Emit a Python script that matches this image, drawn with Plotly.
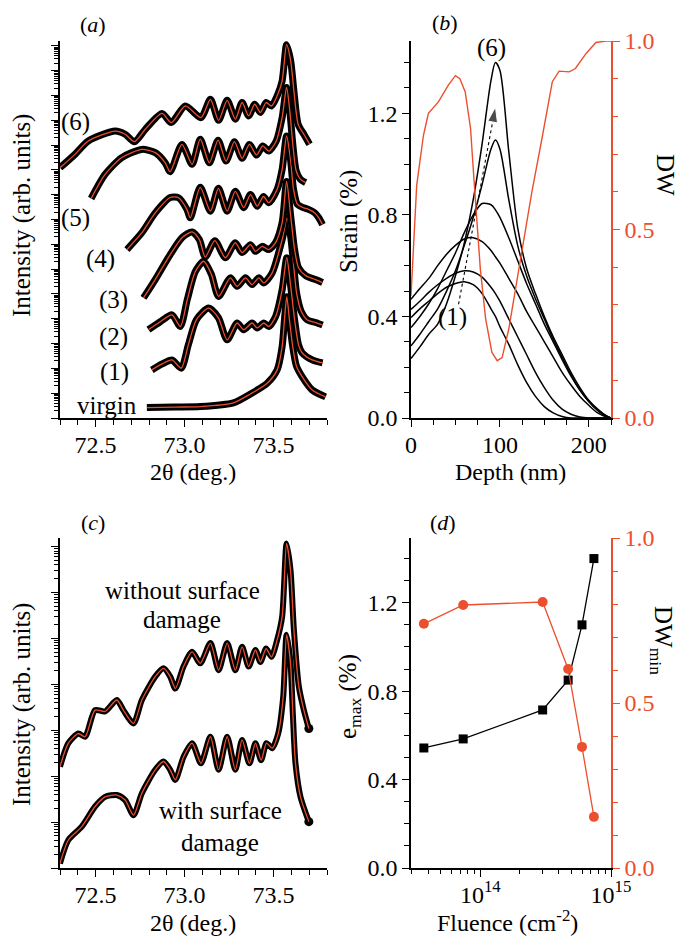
import plotly.graph_objects as go

W, H = 681, 937
RED = "#EB4F2E"
FONT = "Liberation Serif"

# ---------------- (a) XRD scans: 2theta (deg) and log10 intensity ----------------
tth_virgin = [72.788, 72.948, 73.088, 73.274, 73.370, 73.464, 73.520, 73.548, 73.561, 73.574,
              73.589, 73.606, 73.628, 73.661, 73.717, 73.792]
logi_virgin = [0.42, 0.44, 0.46, 0.61, 0.97, 1.40, 1.94, 2.88, 3.96, 4.89,
               3.96, 2.95, 2.10, 1.66, 1.13, 0.85]

tth_1 = [72.816, 72.874, 72.929, 72.981, 73.021, 73.066, 73.135, 73.190, 73.239, 73.295, 73.332,
         73.379, 73.408, 73.445, 73.473, 73.511, 73.548, 73.574, 73.595, 73.618, 73.640, 73.661,
         73.717, 73.775]
logi_1 = [1.94, 2.18, 2.34, 2.01, 2.95, 3.96, 4.43, 4.04, 3.15, 3.83, 3.56,
          3.83, 3.63, 3.83, 3.69, 4.09, 5.17, 6.46, 5.38, 3.96, 2.95, 2.62,
          2.34, 2.22]

tth_2 = [72.797, 72.863, 72.929, 72.976, 73.015, 73.060, 73.107, 73.150, 73.191, 73.257, 73.295,
         73.342, 73.379, 73.417, 73.445, 73.492, 73.548, 73.576, 73.598, 73.612, 73.630, 73.655,
         73.690, 73.736, 73.775]
logi_2 = [3.56, 3.88, 4.16, 3.69, 4.77, 5.90, 6.32, 5.80, 4.90, 5.65, 5.31,
          5.65, 5.38, 5.65, 5.44, 5.85, 7.19, 8.07, 7.20, 6.20, 5.00, 4.30,
          3.95, 3.85, 3.75]

tth_3 = [72.769, 72.835, 72.919, 72.987, 73.042, 73.083, 73.116, 73.170, 73.229, 73.285, 73.323,
         73.370, 73.398, 73.436, 73.473, 73.511, 73.548, 73.573, 73.595, 73.618, 73.640, 73.680,
         73.736, 73.775]
logi_3 = [4.84, 5.58, 6.59, 7.28, 7.50, 7.19, 6.49, 7.15, 6.46, 7.07, 6.67,
          6.99, 6.72, 6.92, 6.79, 7.07, 7.88, 9.54, 8.21, 6.79, 6.06, 5.74,
          5.58, 5.46]

tth_4 = [72.676, 72.760, 72.835, 72.919, 72.966, 73.013, 73.032, 73.088, 73.145, 73.190, 73.239,
         73.285, 73.332, 73.370, 73.408, 73.443, 73.473, 73.520, 73.548, 73.573, 73.595, 73.612,
         73.634, 73.663, 73.696, 73.730, 73.753, 73.775]
logi_4 = [6.79, 7.47, 8.27, 8.89, 8.88, 8.41, 8.07, 9.30, 8.34, 9.26, 8.34,
          9.14, 8.48, 9.01, 8.54, 8.93, 8.68, 9.22, 10.02, 11.37, 10.43, 9.22,
          8.61, 8.49, 8.41, 8.28, 8.08, 7.80]

tth_5 = [72.475, 72.553, 72.647, 72.760, 72.835, 72.891, 72.919, 72.985, 73.042, 73.088, 73.139,
         73.188, 73.233, 73.280, 73.323, 73.364, 73.404, 73.439, 73.473, 73.515, 73.548, 73.573,
         73.591, 73.608, 73.627, 73.651, 73.680]
logi_5 = [8.85, 9.82, 10.50, 10.83, 10.70, 10.29, 9.93, 11.03, 10.23, 11.24, 10.29,
          11.20, 10.36, 11.14, 10.47, 11.03, 10.60, 10.97, 10.76, 11.17, 12.11, 13.33,
          12.38, 11.03, 9.96, 9.62, 9.49]

tth_6 = [72.300, 72.384, 72.459, 72.610, 72.666, 72.718, 72.779, 72.873, 72.925, 73.004, 73.092,
         73.145, 73.191, 73.239, 73.285, 73.323, 73.360, 73.394, 73.426, 73.458, 73.488, 73.520,
         73.548, 73.573, 73.596, 73.614, 73.638, 73.670, 73.702]
logi_6 = [10.09, 10.63, 11.17, 11.57, 11.44, 11.14, 11.64, 12.28, 11.91, 12.58, 12.11,
          12.85, 12.00, 12.81, 12.05, 12.72, 12.18, 12.65, 12.32, 12.72, 12.58, 12.99,
          13.59, 15.05, 14.40, 13.19, 11.84, 11.44, 11.04]

scan_labels = ["virgin", "(1)", "(2)", "(3)", "(4)", "(5)", "(6)"]

# ---------------- (b) strain and DW depth profiles ----------------
depth_nm = [0, 10, 20, 30, 40, 50, 60, 70, 80, 90, 95, 100, 110, 120, 130, 140, 150, 160, 170,
            180, 190, 200, 210, 220, 225]
strain_1 = [0.396, 0.43, 0.46, 0.49, 0.515, 0.53, 0.537, 0.525, 0.49, 0.43, 0.40, 0.36, 0.29,
            0.21, 0.14, 0.085, 0.045, 0.02, 0.006, 0.0, 0.0, 0.0, 0.0, 0.0, 0.0]
strain_2 = [0.428, 0.46, 0.495, 0.525, 0.55, 0.57, 0.58, 0.575, 0.555, 0.515, 0.49, 0.46, 0.39,
            0.32, 0.25, 0.18, 0.12, 0.07, 0.035, 0.015, 0.004, 0.0, 0.0, 0.0, 0.0]
strain_3 = [0.468, 0.51, 0.55, 0.60, 0.645, 0.68, 0.705, 0.71, 0.695, 0.66, 0.635, 0.61, 0.55,
            0.49, 0.42, 0.36, 0.30, 0.24, 0.18, 0.13, 0.085, 0.05, 0.02, 0.004, 0.0]
strain_4 = [0.356, 0.40, 0.45, 0.51, 0.58, 0.65, 0.73, 0.80, 0.845, 0.84, 0.82, 0.79, 0.71,
            0.62, 0.53, 0.45, 0.37, 0.30, 0.23, 0.165, 0.11, 0.065, 0.03, 0.007, 0.0]
strain_5 = [0.284, 0.33, 0.38, 0.43, 0.50, 0.58, 0.68, 0.79, 0.92, 1.06, 1.095, 1.06, 0.86,
            0.68, 0.56, 0.47, 0.39, 0.31, 0.24, 0.17, 0.11, 0.065, 0.03, 0.007, 0.0]
strain_6 = [0.234, 0.28, 0.33, 0.37, 0.45, 0.56, 0.69, 0.86, 1.08, 1.33, 1.40, 1.37, 1.05,
            0.75, 0.59, 0.49, 0.40, 0.32, 0.25, 0.18, 0.12, 0.07, 0.035, 0.008, 0.0]

dw_depth_nm = [0, 6.4, 14, 19.6, 31, 42, 50, 55, 61, 67, 70.5, 74, 78, 84, 91, 97, 102.5, 110,
               117.6, 125, 136, 148, 159, 166.6, 178, 185, 197, 208, 219, 225]
dw_profile = [0.324, 0.617, 0.75, 0.808, 0.839, 0.883, 0.908, 0.90, 0.865, 0.768, 0.644, 0.52,
              0.395, 0.262, 0.174, 0.152, 0.160, 0.236, 0.342, 0.449, 0.60, 0.75, 0.892, 0.92,
              0.918, 0.927, 0.967, 0.996, 1.0, 1.0]

trend_depth = [53.5, 95.0]
trend_strain = [0.448, 1.225]

# ---------------- (c) fits with and without surface damage ----------------
tth_without = [72.300, 72.347, 72.403, 72.441, 72.497, 72.553, 72.619, 72.656, 72.713, 72.760,
               72.835, 72.882, 72.919, 72.948, 72.994, 73.042, 73.088, 73.145, 73.191, 73.239,
               73.285, 73.323, 73.360, 73.398, 73.426, 73.458, 73.488, 73.520, 73.548, 73.573,
               73.595, 73.614, 73.642, 73.670, 73.698]
logi_without = [2.21, 2.72, 2.93, 2.86, 3.44, 3.41, 3.66, 3.44, 3.15, 3.66,
                4.17, 4.35, 4.17, 3.91, 4.39, 4.71, 4.46, 4.90, 4.31, 4.90,
                4.31, 4.82, 4.39, 4.75, 4.49, 4.78, 4.60, 4.97, 5.47, 7.07,
                6.49, 5.19, 3.95, 3.44, 3.04]

tth_with = [72.300, 72.347, 72.422, 72.497, 72.553, 72.619, 72.666, 72.713, 72.760, 72.835,
            72.882, 72.919, 72.948, 72.994, 73.042, 73.092, 73.145, 73.191, 73.239, 73.285,
            73.323, 73.364, 73.398, 73.430, 73.460, 73.492, 73.526, 73.554, 73.573, 73.595,
            73.608, 73.623, 73.651, 73.698]
logi_with = [0.10, 0.61, 0.90, 1.34, 1.55, 1.59, 1.48, 1.15, 1.63, 2.14,
             2.32, 2.14, 1.92, 2.42, 2.72, 2.28, 2.86, 2.14, 2.86, 2.14,
             2.79, 2.28, 2.72, 2.35, 2.72, 2.61, 2.93, 3.73, 5.08, 4.46,
             3.37, 2.28, 1.55, 1.01]

# ---------------- (d) maximum strain and minimum DW vs fluence ----------------
fluence = [3.7e13, 7.4e13, 3.0e14, 4.7e14, 6.0e14, 7.4e14]
e_max = [0.543, 0.584, 0.715, 0.85, 1.10, 1.40]
dw_min = [0.74, 0.797, 0.806, 0.603, 0.367, 0.155]


def px(x):
    return x / W


def py(y):
    return 1 - y / H


fig = go.Figure()


def scan(xa, ya, tth, logi, black_w=7, end_dot=False):
    inten = [10 ** v for v in logi]
    fig.add_trace(go.Scatter(x=tth, y=inten, xaxis=xa, yaxis=ya, mode="lines",
                             line=dict(color="black", width=black_w, shape="spline", smoothing=0.7),
                             hoverinfo="skip", showlegend=False))
    if end_dot:
        fig.add_trace(go.Scatter(x=tth[-1:], y=inten[-1:], xaxis=xa, yaxis=ya, mode="markers",
                                 marker=dict(color="black", size=9), hoverinfo="skip",
                                 showlegend=False))
    fig.add_trace(go.Scatter(x=tth, y=inten, xaxis=xa, yaxis=ya, mode="lines",
                             line=dict(color=RED, width=1.3, shape="spline", smoothing=0.7),
                             hoverinfo="skip", showlegend=False))


# (a)
for tth, logi in [(tth_virgin, logi_virgin), (tth_1, logi_1), (tth_2, logi_2), (tth_3, logi_3),
                  (tth_4, logi_4), (tth_5, logi_5), (tth_6, logi_6)]:
    scan("x", "y", tth, logi)

# (b)
for s in [strain_1, strain_2, strain_3, strain_4, strain_5, strain_6]:
    fig.add_trace(go.Scatter(x=depth_nm, y=s, xaxis="x2", yaxis="y2", mode="lines",
                             line=dict(color="black", width=1.5, shape="spline", smoothing=0.8),
                             showlegend=False))
fig.add_trace(go.Scatter(x=dw_depth_nm, y=dw_profile, xaxis="x2", yaxis="y3", mode="lines",
                         line=dict(color=RED, width=1.4), showlegend=False))
fig.add_trace(go.Scatter(x=trend_depth, y=trend_strain, xaxis="x2", yaxis="y2",
                         mode="lines+markers",
                         line=dict(color="black", width=1.1, dash="dot"),
                         marker=dict(symbol="arrow", size=[0, 16], color="black",
                                     angleref="previous"),
                         showlegend=False))

# (c)
scan("x3", "y4", tth_without, logi_without, black_w=6, end_dot=True)
scan("x3", "y4", tth_with, logi_with, black_w=6, end_dot=True)

# (d)
fig.add_trace(go.Scatter(x=fluence, y=e_max, xaxis="x4", yaxis="y5", mode="lines+markers",
                         line=dict(color="black", width=1.3),
                         marker=dict(symbol="square", size=9, color="black"), showlegend=False))
fig.add_trace(go.Scatter(x=fluence, y=dw_min, xaxis="x4", yaxis="y6", mode="lines+markers",
                         line=dict(color=RED, width=1.3),
                         marker=dict(symbol="circle", size=10, color=RED), showlegend=False))

TICK_SIZE = 24
tickfont = dict(family=FONT, size=TICK_SIZE, color="black")
redfont = dict(family=FONT, size=TICK_SIZE, color=RED)


def base_axis(**kw):
    d = dict(showline=True, linecolor="black", linewidth=1.5, ticks="outside", ticklen=7,
             tickwidth=1.3, tickcolor="black", showgrid=False, zeroline=False,
             automargin=False, tickfont=tickfont)
    d.update(kw)
    return d


xa_dom = [px(60), px(327)]
xb_dom = [px(411), px(611)]
ytop_dom = [py(418), py(41)]
ybot_dom = [py(868), py(538)]

tth_ticks = dict(range=[72.3, 73.8], tickvals=[72.5, 73.0, 73.5], ticktext=["72.5", "73.0", "73.5"],
                 ticklabelstandoff=-3,
                 minor=dict(ticks="outside", ticklen=5, tickwidth=1.2, tickcolor="black",
                            dtick=0.1, tick0=72.3))
log_minor = dict(ticks="outside", ticklen=4, tickwidth=1, tickcolor="black", dtick="D1")

fig.update_layout(
    width=W, height=H, margin=dict(l=0, r=0, t=0, b=0, autoexpand=False),
    paper_bgcolor="white", plot_bgcolor="rgba(0,0,0,0)",
    xaxis=base_axis(domain=xa_dom, anchor="y", **tth_ticks),
    yaxis=base_axis(domain=ytop_dom, anchor="x", type="log", range=[0, 15.2], dtick=1,
                    showticklabels=False, ticklen=7, minor=log_minor),
    xaxis2=base_axis(domain=xb_dom, anchor="y2", range=[0, 225], tickvals=[0, 100, 200],
                     ticklabelstandoff=-3,
                     minor=dict(ticks="outside", ticklen=5, tickwidth=1.2, tickcolor="black",
                                dtick=25, tick0=0)),
    yaxis2=base_axis(domain=ytop_dom, anchor="x2", range=[0, 1.485],
                     tickvals=[0, 0.4, 0.8, 1.2], ticktext=["0.0", "0.4", "0.8", "1.2"],
                     minor=dict(ticks="outside", ticklen=5, tickwidth=1.2, tickcolor="black",
                                dtick=0.1, tick0=0)),
    yaxis3=base_axis(overlaying="y2", anchor="x2", side="right", range=[0, 1],
                     tickvals=[0, 0.5, 1.0], ticktext=["0.0", "0.5", "1.0"],
                     linecolor=RED, tickcolor=RED, tickfont=redfont,
                     minor=dict(ticks="outside", ticklen=5, tickwidth=1.2, tickcolor=RED,
                                dtick=0.1, tick0=0)),
    xaxis3=base_axis(domain=xa_dom, anchor="y4", **tth_ticks),
    yaxis4=base_axis(domain=ybot_dom, anchor="x3", type="log", range=[0, 7.19], dtick=1,
                     showticklabels=False, ticklen=7, minor=log_minor),
    xaxis4=base_axis(domain=xb_dom, anchor="y5", type="log", range=[13.47, 15.0],
                     tickvals=[1e14, 1e15], ticklabelstandoff=-3,
                     ticktext=["10<sup>14</sup>", "10<sup>15</sup>"], minor=log_minor),
    yaxis5=base_axis(domain=ybot_dom, anchor="x4", range=[0, 1.493],
                     tickvals=[0, 0.4, 0.8, 1.2], ticktext=["0.0", "0.4", "0.8", "1.2"],
                     minor=dict(ticks="outside", ticklen=5, tickwidth=1.2, tickcolor="black",
                                dtick=0.1, tick0=0)),
    yaxis6=base_axis(overlaying="y5", anchor="x4", side="right", range=[0, 1],
                     tickvals=[0, 0.5, 1.0], ticktext=["0.0", "0.5", "1.0"],
                     linecolor=RED, tickcolor=RED, tickfont=redfont,
                     minor=dict(ticks="outside", ticklen=5, tickwidth=1.2, tickcolor=RED,
                                dtick=0.1, tick0=0)),
)


def label(text, x, y, size=25, angle=0, color="black"):
    fig.add_annotation(text=text, x=px(x), y=py(y), xref="paper", yref="paper",
                       showarrow=False, textangle=angle, xanchor="center", yanchor="middle",
                       font=dict(family=FONT, size=size, color=color))


# panel tags
label("(<i>a</i>)", 93, 25, size=22)
label("(<i>b</i>)", 445, 23, size=22)
label("(<i>c</i>)", 93, 522, size=22)
label("(<i>d</i>)", 443, 522, size=22)

# axis titles
label("Intensity (arb. units)", 22, 216, angle=-90)
label("2θ (deg.)", 193, 472, size=24)
label("Strain (%)", 349, 222, angle=-90)
label("Depth (nm)", 511, 472, size=24)
label("DW", 666, 175, angle=90)
label("Intensity (arb. units)", 22, 705, angle=-90)
label("2θ (deg.)", 193, 923, size=24)
label("e<sub>max</sub> (%)", 349, 697, angle=-90)
label("DW<sub>min</sub>", 662, 640, angle=90)
label("Fluence (cm<sup>-2</sup>)", 507, 921, size=24)

# scan labels in (a)
for txt, (x, y) in zip(scan_labels, [(107, 405), (114, 372), (113, 337), (113, 300),
                                     (100, 259), (75, 218), (75, 122)]):
    label(txt, x, y)

# profile labels in (b)
label("(6)", 492, 48)
label("(1)", 452, 317)

# (c) curve notes
label("without surface", 182, 590)
label("damage", 182, 619)
label("with surface", 220, 810)
label("damage", 220, 842)

fig.write_html("out.html")
